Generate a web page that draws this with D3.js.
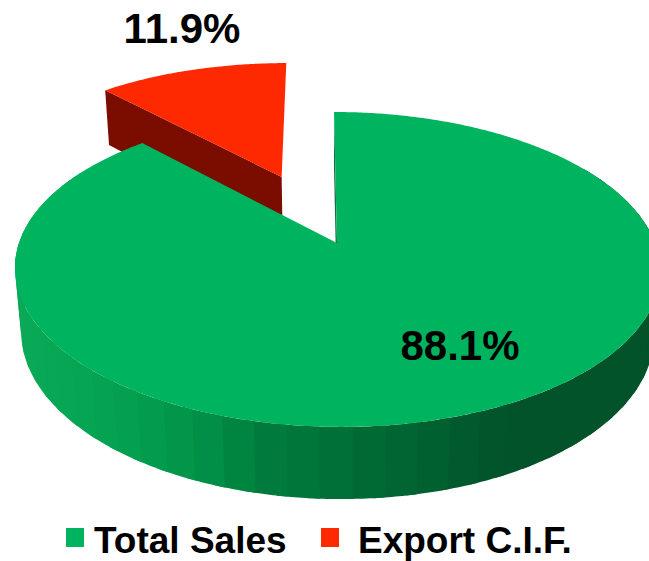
<!DOCTYPE html>
<html>
<head>
<meta charset="utf-8">
<script src="https://cdn.jsdelivr.net/npm/d3@7"></script>
<style>
  html, body { margin: 0; padding: 0; background: #fff; }
  svg { display: block; font-family: "Liberation Sans", Arial, sans-serif; font-weight: bold; }
</style>
</head>
<body>
<div id="chart"></div>
<script>
const categories = ["Total Sales", "Export C.I.F."];
const values = [88.1, 11.9];
const explode = [0, 0.5];

const topColors = ["#00b45f", "#ff2900"];
const redWall = "#7a0c00";

const width = 649;
const height = 561;

// the pie is seen in perspective, so the two rims are different projections of a unit circle
const topRim = { ox: 337, oy: 243, a: 318, b: 153, c: -3.5, k: 0.168 };
const lowRim = { ox: 337, oy: 306, a: 312, b: 161, c: -3.5, k: 0.166 };

function project(rim, x, y) {
    const w = 1 + rim.k * y;
    return [rim.ox + (rim.a * x + rim.c * y) / w, rim.oy - rim.b * y / w];
}

const svg = d3.select("#chart").append("svg").attr("width", width).attr("height", height);
const line = d3.line();

const slices = d3.pie().sort(null).value(d => d)(values).map((d, i) => {
    const mid = (d.startAngle + d.endAngle) / 2;
    return { ...d, i, dx: explode[i] * Math.sin(mid), dy: explode[i] * Math.cos(mid) };
});

function rimPoint(rim, s, angle) {
    return project(rim, s.dx + Math.sin(angle), s.dy + Math.cos(angle));
}

function arcPoints(rim, s, a0, a1) {
    const n = Math.ceil(Math.abs(a1 - a0) / 0.01);
    return d3.range(n + 1).map(j => rimPoint(rim, s, a0 + (a1 - a0) * j / n));
}

function drawPoly(points, color) {
    svg.append("path").attr("d", line(points) + "Z").attr("fill", color);
}

const [green, red] = slices;

// exploded slice first, green sits in front of it
drawPoly([
    rimPoint(topRim, red, red.startAngle),
    project(topRim, red.dx, red.dy),
    project(lowRim, red.dx, red.dy),
    rimPoint(lowRim, red, red.startAngle)
], redWall);
drawPoly([project(topRim, red.dx, red.dy), ...arcPoints(topRim, red, red.startAngle, red.endAngle)], topColors[1]);

// outer wall of the green slice, in narrow shaded strips
const wallShade = d3.scaleLinear()
    .domain([20, 80, 180, 250, 350, 430, 500, 649])
    .range(["#0aa958", "#06a553", "#019448", "#007d3e", "#006b36", "#005f2e", "#02522a", "#02522a"])
    .clamp(true);

const toRad = d3.scaleLinear().domain([0, 360]).range([0, 2 * Math.PI]);
// strips run right to left and overlap the next one, so no seams show
d3.range(60, 296, 5).forEach(deg => {
    const a0 = toRad(deg);
    const a1 = toRad(deg + 5);
    const top = arcPoints(topRim, green, a0 - 0.03, a1);
    const low = arcPoints(lowRim, green, a1, a0 - 0.03);
    drawPoly([...top, ...low], wallShade(rimPoint(topRim, green, (a0 + a1) / 2)[0]));
});

// thin cut face showing beside the gap
drawPoly([
    rimPoint(topRim, green, 0),
    project(topRim, 0, 0),
    project(lowRim, 0, 0),
    rimPoint(lowRim, green, 0)
], "#1b6b45");

drawPoly([project(topRim, 0, 0), ...arcPoints(topRim, green, green.startAngle, green.endAngle)], topColors[0]);

// value labels
const labelPos = [[460, 360], [182, 43]];
slices.forEach((s, i) => {
    svg.append("text")
        .attr("x", labelPos[i][0])
        .attr("y", labelPos[i][1])
        .attr("text-anchor", "middle")
        .attr("font-size", 42)
        .attr("fill", "#000")
        .text(d3.format(".1f")(values[i]) + "%");
});

// legend
const legendX = [66, 321];
categories.forEach((c, i) => {
    svg.append("rect").attr("x", legendX[i]).attr("y", 528).attr("width", 18).attr("height", 19).attr("fill", topColors[i]);
    svg.append("text")
        .attr("x", legendX[i] + 28 + i * 9)
        .attr("y", 553)
        .attr("font-size", 37)
        .attr("fill", "#000")
        .text(c);
});
</script>
</body>
</html>
